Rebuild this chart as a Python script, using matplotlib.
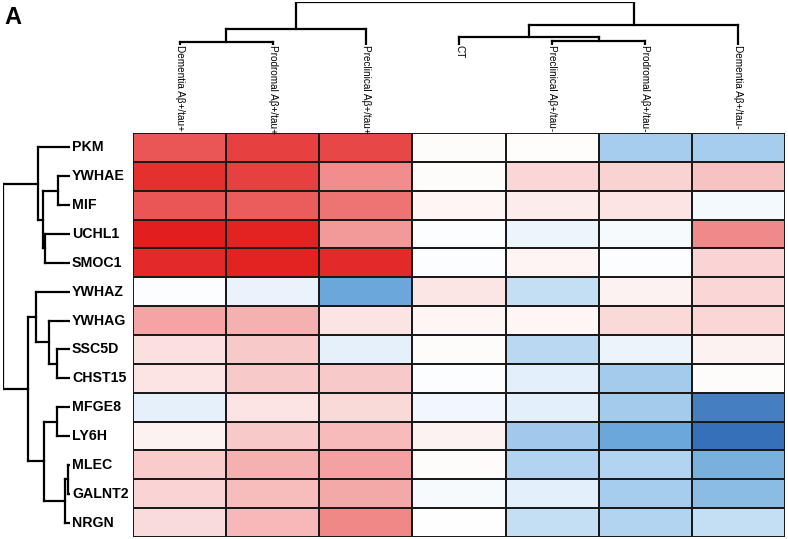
import numpy as np
import matplotlib
matplotlib.use("Agg")
import matplotlib.pyplot as plt
from matplotlib.colors import LinearSegmentedColormap

plt.rcParams['font.family'] = ['Liberation Sans', 'DejaVu Sans']

# ---------------- data ----------------
genes = ["PKM", "YWHAE", "MIF", "UCHL1", "SMOC1", "YWHAZ", "YWHAG", "SSC5D",
         "CHST15", "MFGE8", "LY6H", "MLEC", "GALNT2", "NRGN"]
groups = ["Dementia Aβ+/tau+", "Prodromal Aβ+/tau+", "Preclinical Aβ+/tau+", "CT",
          "Preclinical Aβ+/tau-", "Prodromal Aβ+/tau-", "Dementia Aβ+/tau-"]

pkm    = [0.75, 0.85, 0.82, 0.02, 0.01, -0.40, -0.40]
ywhae  = [0.92, 0.85, 0.50, 0.02, 0.18, 0.20, 0.27]
mif    = [0.75, 0.72, 0.62, 0.04, 0.08, 0.12, -0.05]
uchl1  = [1.00, 0.98, 0.45, -0.02, -0.08, -0.04, 0.52]
smoc1  = [0.95, 0.98, 0.95, -0.02, 0.05, -0.02, 0.19]
ywhaz  = [-0.02, -0.10, -0.65, 0.11, -0.27, 0.06, 0.18]
ywhag  = [0.40, 0.35, 0.12, 0.04, 0.04, 0.17, 0.18]
ssc5d  = [0.14, 0.24, -0.12, 0.02, -0.32, -0.09, 0.06]
chst15 = [0.12, 0.24, 0.24, -0.02, -0.13, -0.42, 0.02]
mfge8  = [-0.12, 0.12, 0.17, -0.07, -0.13, -0.42, -0.90]
ly6h   = [0.06, 0.24, 0.30, 0.06, -0.43, -0.65, -1.00]
mlec   = [0.23, 0.35, 0.42, 0.02, -0.35, -0.35, -0.60]
galnt2 = [0.19, 0.29, 0.38, -0.04, -0.13, -0.40, -0.52]
nrgn   = [0.16, 0.32, 0.53, 0.00, -0.27, -0.35, -0.27]

values = np.array([pkm, ywhae, mif, uchl1, smoc1, ywhaz, ywhag, ssc5d,
                   chst15, mfge8, ly6h, mlec, galnt2, nrgn])

# linkage: (child_a, child_b, height); leaves 0..n-1, internal nodes n+k
row_links = [
    (1, 2, 12),      # 14: YWHAE-MIF
    (3, 4, 25),      # 15: UCHL1-SMOC1
    (14, 15, 27),    # 16
    (0, 16, 32),     # 17: PKM + ...
    (7, 8, 13),      # 18: SSC5D-CHST15
    (6, 18, 21),     # 19: YWHAG + ...
    (5, 19, 34),     # 20: YWHAZ + ...
    (9, 10, 13),     # 21: MFGE8-LY6H
    (11, 12, 2),     # 22: MLEC-GALNT2
    (22, 13, 5),     # 23: + NRGN
    (21, 23, 26),    # 24
    (20, 24, 42),    # 25
    (17, 25, 67),    # 26: root
]
col_links = [
    (0, 1, 3),       # 7
    (7, 2, 16),      # 8
    (4, 5, 4),       # 9
    (3, 9, 8),       # 10
    (10, 6, 20),     # 11
    (8, 11, 43),     # 12: root
]

# ---------------- figure ----------------
W, H = 788, 539
fig = plt.figure(figsize=(W / 100, H / 100), dpi=100)

def fax(x0, y0, x1, y1):
    return fig.add_axes([x0 / W, 1 - y1 / H, (x1 - x0) / W, (y1 - y0) / H])

cmap = LinearSegmentedColormap.from_list(
    "bwr_custom",
    [(0.0, "#3670B8"), (0.175, "#6CA8DA"), (0.30, "#A8CEEE"),
     (0.5, "#FFFFFF"), (1.0, "#E31E1E")])

hx0, hy0, hx1, hy1 = 133, 133, 785, 537
ax = fax(hx0, hy0, hx1, hy1)
nr, nc = values.shape
ax.pcolormesh(np.arange(nc + 1), np.arange(nr + 1), values, cmap=cmap,
              vmin=-1, vmax=1, edgecolors="#1a1a1a", linewidth=1.4)
ax.set_xlim(0, nc)
ax.set_ylim(nr, 0)
ax.axis("off")


def dendro_segments(links, n):
    pos = {i: i + 0.5 for i in range(n)}
    hgt = {i: 0.0 for i in range(n)}
    segs = []
    for k, (a, b, h) in enumerate(links):
        node = n + k
        pa, pb = pos[a], pos[b]
        segs.append(((pa, hgt[a]), (pa, h)))
        segs.append(((pb, hgt[b]), (pb, h)))
        segs.append(((pa, h), (pb, h)))
        pos[node] = (pa + pb) / 2
        hgt[node] = h
    return segs

# row dendrogram (left)
axr = fax(3, hy0, 70, hy1)
for (p0, h0), (p1, h1) in dendro_segments(row_links, nr):
    axr.plot([h0, h1], [p0, p1], color="black", lw=1.6, solid_capstyle="projecting")
axr.set_xlim(67, 0)
axr.set_ylim(nr, 0)
axr.axis("off")

for i, g in enumerate(genes):
    fig.text(72 / W, 1 - (hy0 + (i + 0.5) * (hy1 - hy0) / nr) / H, g,
             ha="left", va="center", fontsize=10.2, fontweight="bold")

# column dendrogram (top)
axc = fax(hx0, 2, hx1, 45)
for (p0, h0), (p1, h1) in dendro_segments(col_links, nc):
    axc.plot([p0, p1], [h0, h1], color="black", lw=1.6, solid_capstyle="projecting")
axc.set_xlim(0, nc)
axc.set_ylim(0, 43)
axc.axis("off")

for j, g in enumerate(groups):
    fig.text((hx0 + (j + 0.5) * (hx1 - hx0) / nc) / W, 1 - 45 / H, g,
             rotation=-90, ha="center", va="top", fontsize=7.2)

fig.text(4 / W, 1 - 6 / H, "A", ha="left", va="top", fontsize=17,
         fontweight="bold")

fig.savefig("out.png", dpi=100)
